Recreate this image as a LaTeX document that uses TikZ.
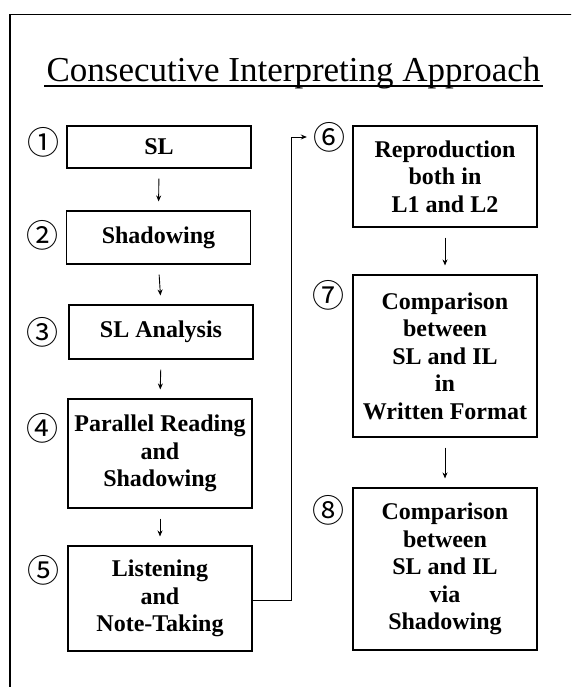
\documentclass[tikz,border=0pt]{standalone}
\usepackage{fontspec}
\setmainfont{Liberation Serif}
\newfontfamily\circfont{Noto Sans CJK JP}
\usetikzlibrary{arrows.meta}
\begin{document}
\begin{tikzpicture}[x=1pt,y=-1pt,
  stepbox/.style={draw,line width=1.1pt,inner sep=0pt,align=center,
    font=\fontsize{24}{27.5}\selectfont\bfseries,minimum width=184pt},
  num/.style={inner sep=0pt,font=\circfont\fontsize{32}{32}\selectfont},
  conn/.style={line width=0.9pt,-{Stealth[length=6pt,width=5pt]}},
  flow/.style={conn,shorten <=10pt,shorten >=9pt}]
\useasboundingbox (0,0) rectangle (571,687);
\clip (0,0) rectangle (571,687);
\draw[line width=1.4pt] (10,14.6) rectangle (600,720);
% title
\node[anchor=base,inner sep=0pt,font=\fontsize{35}{40}\selectfont] (title) at (293.5,82) {Consecutive Interpreting Approach};
\draw[line width=1.1pt] ([yshift=-4pt,xshift=-2pt]title.base west) -- ([yshift=-4pt,xshift=2pt]title.base east);
% left column
\node[stepbox,minimum height=42pt] (b1) at (159,147) {SL};
\node[stepbox,minimum height=53pt] (b2) at (158.5,237.5) {Shadowing};
\node[stepbox,minimum height=54pt] (b3) at (161,332) {SL Analysis};
\node[stepbox,minimum height=109pt] (b4) at (160,453.5) {Parallel Reading\\and\\Shadowing};
\node[stepbox,minimum height=105pt] (b5) at (160,598.5) {Listening\\and\\Note-Taking};
% right column
\node[stepbox,minimum height=101pt] (b6) at (445,176.5) {Reproduction\\both in\\L1 and L2};
\node[stepbox,minimum height=162pt] (b7) at (445,356) {Comparison\\between\\SL and IL\\in\\Written Format};
\node[stepbox,minimum height=162pt] (b8) at (445,569) {Comparison\\between\\SL and IL\\via\\Shadowing};
% numbers
\node[num] (n1) at (43,142) {①};
\node[num] (n2) at (42,235) {②};
\node[num] (n3) at (42,332) {③};
\node[num] (n4) at (42,428) {④};
\node[num] (n5) at (43,570) {⑤};
\node[num] (n6) at (329,137) {⑥};
\node[num] (n7) at (328,295) {⑦};
\node[num] (n8) at (328,510) {⑧};
% connectors
\draw[flow] (b1.south) -- (b2.north);
\draw[flow] (b2.south) -- (b3.north);
\draw[flow] (b3.south) -- (b4.north);
\draw[flow] (b4.south) -- (b5.north);
\draw[flow] (b6.south) -- (b7.north);
\draw[flow] (b7.south) -- (b8.north);
\draw[conn,shorten >=6pt] ([yshift=-2pt]b5.east) -- ++(39,0) |- (n6.west);
\end{tikzpicture}
\end{document}
